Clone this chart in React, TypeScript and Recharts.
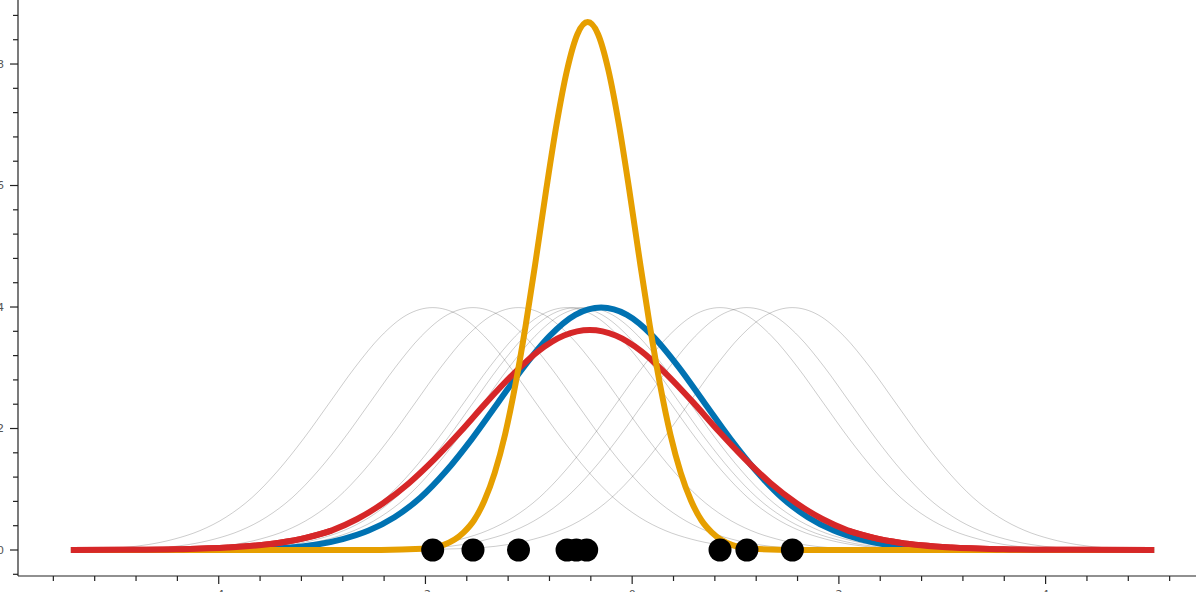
import * as React from "react"
import { ComposedChart, Line, Scatter, XAxis, YAxis } from "recharts"

// observed sample (x positions of the black dots)
const POINTS = [-1.93, -1.54, -1.1, -0.63, -0.54, -0.44, 0.85, 1.11, 1.55]

const KERNEL_DX = [-3.5, -3.25, -3, -2.75, -2.5, -2.25, -2, -1.75, -1.5, -1.25, -1, -0.75, -0.5, -0.25, 0, 0.25, 0.5, 0.75, 1, 1.25, 1.5, 1.75, 2, 2.25, 2.5, 2.75, 3, 3.25, 3.5]
const KERNEL_Y = [0.001, 0.002, 0.004, 0.009, 0.018, 0.032, 0.054, 0.086, 0.13, 0.183, 0.242, 0.301, 0.352, 0.387, 0.399, 0.387, 0.352, 0.301, 0.242, 0.183, 0.13, 0.086, 0.054, 0.032, 0.018, 0.009, 0.004, 0.002, 0.001]

// blue curve
const BLUE_CENTER = -0.3
const BLUE_DX = [-5.13, -4.5, -4, -3.5, -3, -2.75, -2.5, -2.25, -2, -1.75, -1.5, -1.25, -1, -0.75, -0.5, -0.25, 0, 0.25, 0.5, 0.75, 1, 1.25, 1.5, 1.75, 2, 2.25, 2.5, 2.75, 3, 3.5, 4, 4.5, 5.35]
const BLUE_Y = [0, 0, 0.0001, 0.001, 0.004, 0.009, 0.018, 0.032, 0.054, 0.086, 0.13, 0.183, 0.242, 0.301, 0.352, 0.387, 0.399, 0.387, 0.352, 0.301, 0.242, 0.183, 0.13, 0.086, 0.054, 0.032, 0.018, 0.009, 0.004, 0.001, 0.0001, 0, 0]

// red curve
const RED_CENTER = -0.41
const RED_DX = [-5.02, -4.5, -4, -3.5, -3, -2.75, -2.5, -2.25, -2, -1.75, -1.5, -1.25, -1, -0.75, -0.5, -0.25, 0, 0.25, 0.5, 0.75, 1, 1.25, 1.5, 1.75, 2, 2.25, 2.5, 2.75, 3, 3.5, 4, 4.5, 5.46]
const RED_Y = [0, 0.0003, 0.0012, 0.004, 0.012, 0.02, 0.032, 0.051, 0.077, 0.11, 0.15, 0.195, 0.243, 0.288, 0.327, 0.353, 0.362, 0.353, 0.327, 0.288, 0.243, 0.195, 0.15, 0.11, 0.077, 0.051, 0.032, 0.02, 0.012, 0.004, 0.0012, 0.0003, 0]

// yellow curve (narrow, tall)
const YEL_CENTER = -0.43
const YEL_DX = [-5, -2, -1.6, -1.4, -1.2, -1.1, -1, -0.9, -0.8, -0.7, -0.6, -0.5, -0.4, -0.3, -0.2, -0.1, 0, 0.1, 0.2, 0.3, 0.4, 0.5, 0.6, 0.7, 0.8, 0.9, 1, 1.1, 1.2, 1.4, 1.6, 2, 5.48]
const YEL_Y = [0, 0.0001, 0.002, 0.008, 0.029, 0.049, 0.081, 0.127, 0.19, 0.272, 0.37, 0.48, 0.595, 0.702, 0.79, 0.849, 0.869, 0.849, 0.79, 0.702, 0.595, 0.48, 0.37, 0.272, 0.19, 0.127, 0.081, 0.049, 0.029, 0.008, 0.002, 0.0001, 0]

const X_TICKS = [-5.6, -5.2, -4.8, -4.4, -4, -3.6, -3.2, -2.8, -2.4, -2, -1.6, -1.2, -0.8, -0.4, 0, 0.4, 0.8, 1.2, 1.6, 2, 2.4, 2.8, 3.2, 3.6, 4, 4.4, 4.8, 5.2, 5.6, 6]
const X_MAJOR = [-4, -2, 0, 2, 4]
const Y_TICKS = [-0.04, 0, 0.04, 0.08, 0.12, 0.16, 0.2, 0.24, 0.28, 0.32, 0.36, 0.4, 0.44, 0.48, 0.52, 0.56, 0.6, 0.64, 0.68, 0.72, 0.76, 0.8, 0.84, 0.88]
const Y_MAJOR = [0, 0.2, 0.4, 0.6, 0.8]

const shift = (c: number, dx: number[], ys: number[]) =>
  dx.map((d, i) => ({ x: +(c + d).toFixed(3), y: ys[i] }))

const labelStyle = { fontFamily: "DejaVu Sans", fontSize: 11, fill: "#555" }

function YTick({ x, y, payload }: any) {
  const major = Y_MAJOR.includes(payload.value)
  const len = major ? 8 : 5
  return (
    <g>
      <line x1={x} x2={x - len} y1={y} y2={y} stroke="#222" strokeWidth={1.2} />
      {major && (
        <text x={x - len - 6} y={y} dy="0.35em" textAnchor="end" style={labelStyle}>
          {payload.value.toFixed(1)}
        </text>
      )}
    </g>
  )
}

function XTick({ x, y, payload }: any) {
  const major = X_MAJOR.includes(payload.value)
  const len = major ? 8 : 5
  return (
    <g>
      <line x1={x} x2={x} y1={y} y2={y + len} stroke="#222" strokeWidth={1.2} />
      {major && (
        <text x={x} y={y + 14} dy="0.71em" textAnchor="middle" style={labelStyle}>
          {payload.value}
        </text>
      )}
    </g>
  )
}

function Dot({ cx, cy }: any) {
  return <circle cx={cx} cy={cy} r={11.5} fill="#000" />
}

export default function App() {
  const kernels = POINTS.map((c) => shift(c, KERNEL_DX, KERNEL_Y))
  const blue = shift(BLUE_CENTER, BLUE_DX, BLUE_Y)
  const red = shift(RED_CENTER, RED_DX, RED_Y)
  const yellow = shift(YEL_CENTER, YEL_DX, YEL_Y)
  const dots = POINTS.map((x) => ({ x, y: 0 }))
  // red sits over the yellow along the flat tails
  const redLeftTail = red.slice(0, 7)
  const redRightTail = red.slice(26)

  return (
    <div style={{ position: "fixed", left: 0, top: 0, width: 1196, height: 592, overflow: "hidden", background: "#fff" }}>
      <div style={{ position: "absolute", left: -42, top: 0 }}>
        <ComposedChart width={1315} height={616} margin={{ top: 0, right: 0, bottom: 0, left: 0 }}>
          <XAxis
            dataKey="x"
            type="number"
            domain={[-5.942, 6.2]}
            allowDataOverflow
            ticks={X_TICKS}
            interval={0}
            height={40}
            tickSize={0}
            tickMargin={0}
            tickLine={false}
            tick={<XTick />}
            axisLine={{ stroke: "#222", strokeWidth: 1.2 }}
          />
          <YAxis
            type="number"
            domain={[-0.0428, 0.9054]}
            allowDataOverflow
            ticks={Y_TICKS}
            interval={0}
            width={60}
            tickSize={0}
            tickMargin={0}
            tickLine={false}
            tick={<YTick />}
            axisLine={{ stroke: "#222", strokeWidth: 1.2 }}
          />
          {kernels.map((k, i) => (
            <Line
              key={"k" + i}
              data={k}
              dataKey="y"
              type="monotone"
              stroke="#000"
              strokeOpacity={0.2}
              strokeWidth={1}
              dot={false}
              activeDot={false}
              isAnimationActive={false}
            />
          ))}
          <Line data={blue} dataKey="y" type="monotone" stroke="#0072B2" strokeWidth={6} dot={false} activeDot={false} isAnimationActive={false} />
          <Line data={red} dataKey="y" type="monotone" stroke="#D62728" strokeWidth={6} dot={false} activeDot={false} isAnimationActive={false} />
          <Scatter data={dots} dataKey="y" shape={<Dot />} isAnimationActive={false} />
          <Line data={yellow} dataKey="y" type="monotone" stroke="#E69F00" strokeWidth={6} dot={false} activeDot={false} isAnimationActive={false} />
          <Line data={redLeftTail} dataKey="y" type="monotone" stroke="#D62728" strokeWidth={6} dot={false} activeDot={false} isAnimationActive={false} />
          <Line data={redRightTail} dataKey="y" type="monotone" stroke="#D62728" strokeWidth={6} dot={false} activeDot={false} isAnimationActive={false} />
        </ComposedChart>
      </div>
    </div>
  )
}
